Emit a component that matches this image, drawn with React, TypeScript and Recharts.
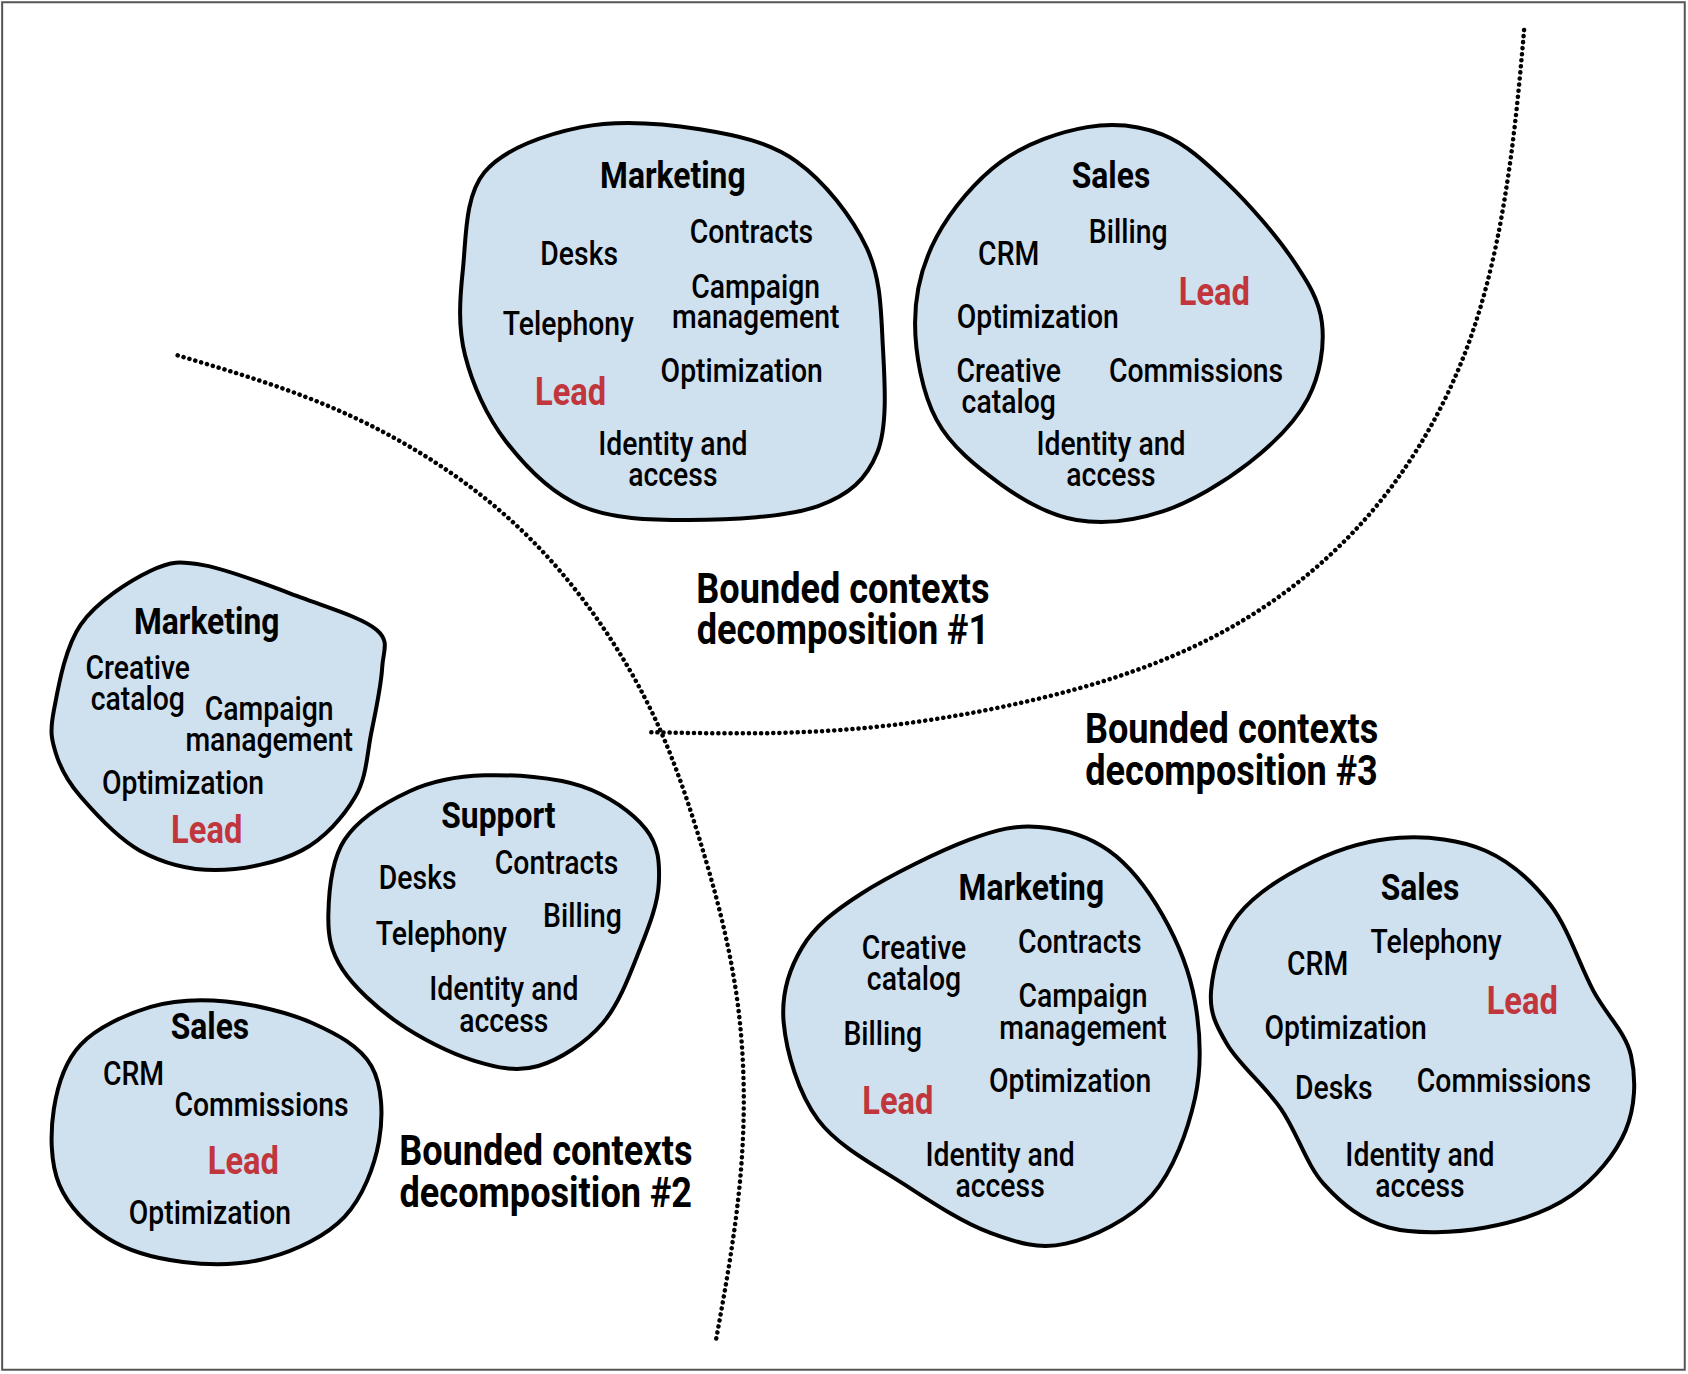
import React from 'react';
import { ComposedChart, XAxis, YAxis, Scatter, Line, ReferenceArea } from 'recharts';

const S = 1688 / 1568;
const W = 1688, H = 1374;

type P = [number, number];
const blobOutlines: P[][] = [
  [[430,250],[450,160],[540,118],[650,120],[740,150],[805,230],[820,320],[815,420],[760,470],[640,483],[540,470],[470,410],[432,330]],
  [[850,300],[870,220],[930,150],[1010,118],[1080,125],[1140,170],[1200,240],[1228,300],[1215,370],[1160,430],[1080,475],[1000,483],[930,450],[870,390]],
  [[50,660],[75,580],[140,530],[190,525],[280,555],[350,585],[355,620],[345,680],[330,740],[280,790],[200,808],[130,790],[75,740],[52,700]],
  [[305,850],[320,780],[380,735],[450,720],[540,730],[600,770],[612,820],[595,880],[560,950],[500,990],[440,985],[370,950],[318,900]],
  [[50,1030],[75,970],[140,935],[210,930],[290,950],[345,990],[352,1060],[320,1130],[250,1168],[170,1172],[100,1150],[55,1100]],
  [[728,950],[745,880],[800,830],[900,780],[965,768],[1030,790],[1080,850],[1110,930],[1110,1020],[1070,1110],[990,1155],[920,1145],[840,1100],[760,1040]],
  [[1125,920],[1150,850],[1220,800],[1300,778],[1380,790],[1440,840],[1480,920],[1515,980],[1510,1050],[1460,1110],[1380,1140],[1290,1140],[1230,1100],[1190,1030],[1140,970]],
];
const blobData = blobOutlines.map((pts) => ({ x: pts[0][0], y: pts[0][1], pts }));

const divider1 = [
  { x: 165, y: 330 }, { x: 300, y: 375 }, { x: 420, y: 440 }, { x: 520, y: 530 },
  { x: 600, y: 650 }, { x: 650, y: 780 }, { x: 685, y: 930 }, { x: 688, y: 1090 }, { x: 665, y: 1245 },
];
const divider2 = [
  { x: 605, y: 680 }, { x: 780, y: 678 }, { x: 960, y: 650 }, { x: 1130, y: 590 },
  { x: 1270, y: 480 }, { x: 1360, y: 330 }, { x: 1400, y: 170 }, { x: 1416, y: 25 },
];

type L = { x: number; y: number; t: string; k?: 'lead' | 'head' | 'title' };
const labels: L[] = [
  { x: 625, y: 163, t: 'Marketing', k: 'head' }, { x: 538, y: 236, t: 'Desks' }, { x: 698, y: 215, t: 'Contracts' },
  { x: 702, y: 266, t: 'Campaign' }, { x: 702, y: 294, t: 'management' }, { x: 528, y: 301, t: 'Telephony' },
  { x: 689, y: 344, t: 'Optimization' }, { x: 530, y: 364, t: 'Lead', k: 'lead' }, { x: 625, y: 412, t: 'Identity and' }, { x: 625, y: 441, t: 'access' },
  { x: 1032, y: 163, t: 'Sales', k: 'head' }, { x: 1048, y: 215, t: 'Billing' }, { x: 937, y: 236, t: 'CRM' },
  { x: 1128, y: 271, t: 'Lead', k: 'lead' }, { x: 964, y: 294, t: 'Optimization' }, { x: 937, y: 344, t: 'Creative' },
  { x: 937, y: 373, t: 'catalog' }, { x: 1111, y: 344, t: 'Commissions' }, { x: 1032, y: 412, t: 'Identity and' }, { x: 1032, y: 441, t: 'access' },
  { x: 783, y: 547, t: 'Bounded contexts', k: 'title' }, { x: 783, y: 585, t: 'decomposition #1', k: 'title' },
  { x: 192, y: 577, t: 'Marketing', k: 'head' }, { x: 128, y: 620, t: 'Creative' }, { x: 128, y: 649, t: 'catalog' },
  { x: 250, y: 658, t: 'Campaign' }, { x: 250, y: 687, t: 'management' }, { x: 170, y: 727, t: 'Optimization' }, { x: 192, y: 771, t: 'Lead', k: 'lead' },
  { x: 463, y: 757, t: 'Support', k: 'head' }, { x: 388, y: 815, t: 'Desks' }, { x: 517, y: 801, t: 'Contracts' },
  { x: 410, y: 867, t: 'Telephony' }, { x: 541, y: 850, t: 'Billing' }, { x: 468, y: 918, t: 'Identity and' }, { x: 468, y: 948, t: 'access' },
  { x: 195, y: 953, t: 'Sales', k: 'head' }, { x: 124, y: 997, t: 'CRM' }, { x: 243, y: 1026, t: 'Commissions' },
  { x: 226, y: 1078, t: 'Lead', k: 'lead' }, { x: 195, y: 1126, t: 'Optimization' },
  { x: 507, y: 1069, t: 'Bounded contexts', k: 'title' }, { x: 507, y: 1108, t: 'decomposition #2', k: 'title' },
  { x: 1144, y: 677, t: 'Bounded contexts', k: 'title' }, { x: 1144, y: 716, t: 'decomposition #3', k: 'title' },
  { x: 958, y: 824, t: 'Marketing', k: 'head' }, { x: 849, y: 880, t: 'Creative' }, { x: 849, y: 909, t: 'catalog' },
  { x: 1003, y: 875, t: 'Contracts' }, { x: 1006, y: 925, t: 'Campaign' }, { x: 1006, y: 954, t: 'management' },
  { x: 820, y: 960, t: 'Billing' }, { x: 994, y: 1004, t: 'Optimization' }, { x: 834, y: 1023, t: 'Lead', k: 'lead' },
  { x: 929, y: 1072, t: 'Identity and' }, { x: 929, y: 1101, t: 'access' },
  { x: 1319, y: 824, t: 'Sales', k: 'head' }, { x: 1334, y: 875, t: 'Telephony' }, { x: 1224, y: 895, t: 'CRM' },
  { x: 1414, y: 930, t: 'Lead', k: 'lead' }, { x: 1250, y: 954, t: 'Optimization' }, { x: 1239, y: 1010, t: 'Desks' },
  { x: 1397, y: 1004, t: 'Commissions' }, { x: 1319, y: 1072, t: 'Identity and' }, { x: 1319, y: 1101, t: 'access' },
];

const FONT = "Roboto, 'Noto Sans', sans-serif";

function smoothClosed(pts: [number, number][]) {
  const n = pts.length;
  let d = `M${pts[0][0]},${pts[0][1]}`;
  for (let i = 0; i < n; i++) {
    const p0 = pts[(i - 1 + n) % n], p1 = pts[i], p2 = pts[(i + 1) % n], p3 = pts[(i + 2) % n];
    const c1 = [p1[0] + (p2[0] - p0[0]) / 6, p1[1] + (p2[1] - p0[1]) / 6];
    const c2 = [p2[0] - (p3[0] - p1[0]) / 6, p2[1] - (p3[1] - p1[1]) / 6];
    d += ` C${c1[0]},${c1[1]} ${c2[0]},${c2[1]} ${p2[0]},${p2[1]}`;
  }
  return d + 'Z';
}

const BlobShape = (props: any) => {
  const { cx, cy, payload } = props;
  const ax = payload.pts[0][0], ay = payload.pts[0][1];
  const pix = payload.pts.map((p: P) => [cx + (p[0] - ax) * S, cy + (p[1] - ay) * S] as [number, number]);
  return <path d={smoothClosed(pix)} fill="#cfe0ee" stroke="#000" strokeWidth={4} />;
};

const LabelShape = (props: any) => {
  const { cx, cy, payload } = props;
  const k = payload.k;
  const size = k === 'title' ? 42 : k === 'lead' ? 38 : k === 'head' ? 37 : 33;
  return (
    <text x={0} y={0} transform={`translate(${cx},${cy}) scale(0.86,1)`} textAnchor="middle" dominantBaseline="central" fontFamily={FONT}
      fontSize={size} fontWeight={k ? 700 : 500} fill={k === 'lead' ? '#c0363c' : '#000'}>
      {payload.t}
    </text>
  );
};

export default function App() {
  return (
    <div style={{ position: 'absolute', left: 0, top: 0, width: W, height: H, background: '#fff' }}>
      <ComposedChart width={W} height={H} margin={{ top: 0, right: 0, bottom: 0, left: 0 }}>
        <XAxis type="number" dataKey="x" domain={[0, 1568]} hide allowDataOverflow />
        <YAxis type="number" dataKey="y" domain={[0, 1276]} reversed hide allowDataOverflow />
        <ReferenceArea x1={2} x2={1565} y1={2} y2={1272} fill="none" stroke="#555" strokeWidth={2} />
        <Line data={divider1} dataKey="y" type="natural" stroke="#000" strokeWidth={4.5} strokeDasharray="0.1 6" strokeLinecap="round" dot={false} isAnimationActive={false} />
        <Line data={divider2} dataKey="y" type="natural" stroke="#000" strokeWidth={4.5} strokeDasharray="0.1 6" strokeLinecap="round" dot={false} isAnimationActive={false} />
        <Scatter data={blobData} shape={BlobShape} isAnimationActive={false} />
        <Scatter data={labels} shape={LabelShape} isAnimationActive={false} />
      </ComposedChart>
    </div>
  );
}
